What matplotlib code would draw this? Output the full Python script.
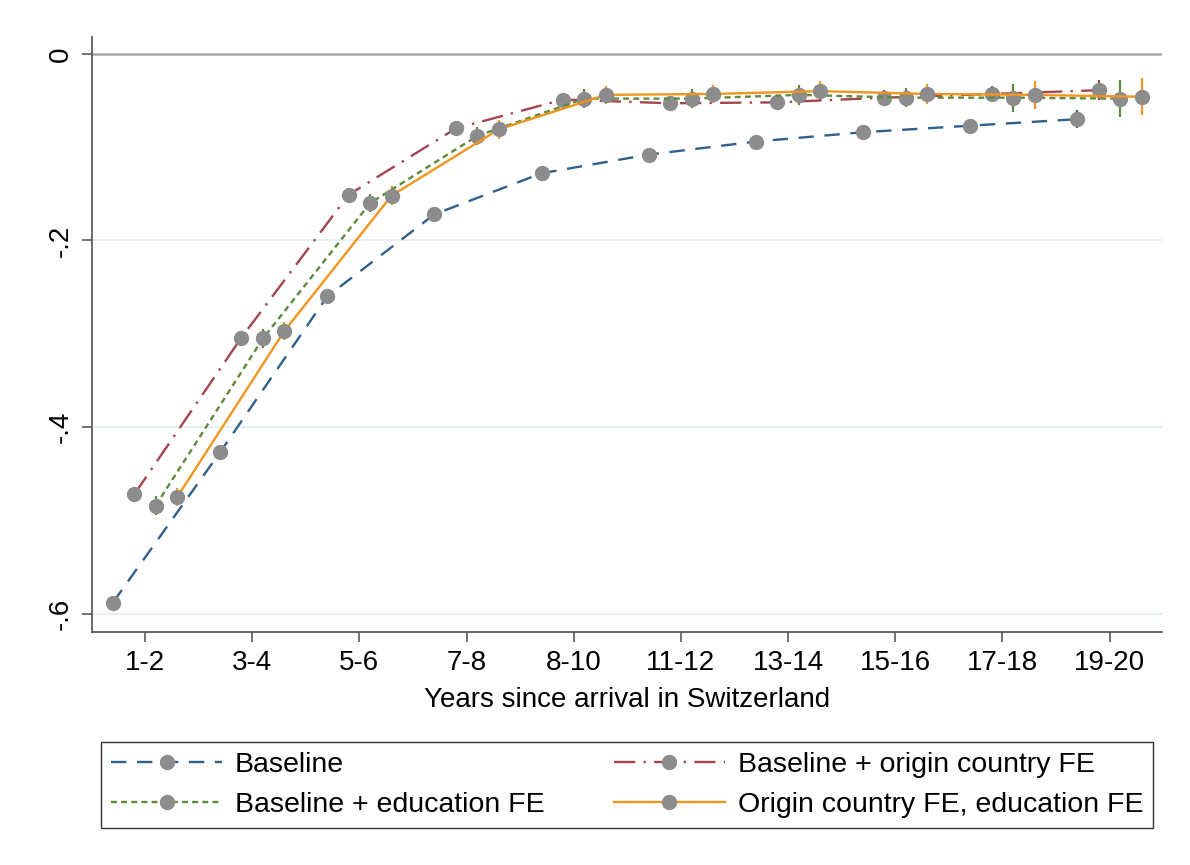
import numpy as np
import matplotlib.pyplot as plt

plt.rcParams['font.family'] = ['Liberation Sans', 'DejaVu Sans']

# categories (years since arrival)
periods = ['1-2', '3-4', '5-6', '7-8', '8-10', '11-12', '13-14', '15-16', '17-18', '19-20']

# point estimates
baseline = [-0.588, -0.427, -0.260, -0.172, -0.128, -0.108, -0.094, -0.084, -0.077, -0.070]
origin_fe = [-0.472, -0.304, -0.151, -0.080, -0.049, -0.053, -0.052, -0.047, -0.043, -0.039]
educ_fe = [-0.484, -0.305, -0.160, -0.088, -0.048, -0.048, -0.044, -0.047, -0.047, -0.048]
both_fe = [-0.475, -0.297, -0.152, -0.081, -0.044, -0.043, -0.040, -0.043, -0.044, -0.046]

# half-width of confidence intervals
baseline_ci = [0.003, 0.003, 0.003, 0.003, 0.003, 0.003, 0.004, 0.005, 0.006, 0.010]
origin_ci = [0.004, 0.005, 0.005, 0.005, 0.006, 0.006, 0.007, 0.008, 0.009, 0.011]
educ_ci = [0.010, 0.010, 0.010, 0.010, 0.010, 0.010, 0.011, 0.010, 0.015, 0.020]
both_ci = [0.010, 0.010, 0.010, 0.010, 0.010, 0.010, 0.011, 0.011, 0.015, 0.020]

labels = ['Baseline', 'Baseline + origin country FE',
          'Baseline + education FE', 'Origin country FE, education FE']

fig = plt.figure(figsize=(11.9, 8.65), dpi=100)
ax = fig.add_axes([0.0773, 0.2694, 0.8992, 0.6878])

x = np.arange(1, len(periods) + 1)
series = [
    (baseline, baseline_ci, -0.3, '#2f5f8a', (0, (6.5, 4.5))),
    (origin_fe, origin_ci, -0.1, '#a3454f', (0, (9, 3.5, 1, 3.5))),
    (educ_fe, educ_ci, 0.1, '#5f8a3a', (0, (2.5, 1.8))),
    (both_fe, both_ci, 0.3, '#f0961e', '-'),
]

# grid and zero line
for yv in [-0.2, -0.4, -0.6]:
    ax.axhline(yv, color='#e4eef0', lw=1.3, zorder=0)
ax.axhline(0, color='#a8a8a8', lw=1.8, zorder=0)

handles = []
for vals, ci, off, col, ls in series:
    xs = x + off
    ax.errorbar(xs, vals, yerr=ci, fmt='none', ecolor=col, elinewidth=1.6, capsize=0, zorder=2)
    h, = ax.plot(xs, vals, color=col, lw=1.7, linestyle=ls, marker='o', markersize=10,
                 markerfacecolor='#8c8c8c', markeredgecolor='#8c8c8c', zorder=3)
    handles.append(h)

ax.set_xlim(0.505, 10.49)
ax.set_ylim(-0.6195, 0.018)
ax.set_xticks(x)
ax.set_xticklabels(periods, fontsize=20)
ax.set_yticks([0, -0.2, -0.4, -0.6])
ax.set_yticklabels(['0', '-.2', '-.4', '-.6'], fontsize=20, rotation=90, va='center')
ax.set_xlabel('Years since arrival in Switzerland', fontsize=20, labelpad=8)

for s in ['top', 'right']:
    ax.spines[s].set_visible(False)
for s in ['left', 'bottom']:
    ax.spines[s].set_color('#5a5a5a')
    ax.spines[s].set_linewidth(1.3)
ax.tick_params(axis='both', length=7, width=1.2, color='#5a5a5a', pad=6)

# legend filled column-wise, so reorder to get row-wise layout
order = [0, 2, 1, 3]
leg = fig.legend([handles[i] for i in order], [labels[i] for i in order],
                 loc='lower left', bbox_to_anchor=(0.0849, 0.0428, 0.884, 0.11),
                 mode='expand', ncol=2, fontsize=20.5, frameon=True, fancybox=False,
                 edgecolor='black', handlelength=3.9, numpoints=1, borderpad=0.35,
                 labelspacing=0.48, handletextpad=0.45, borderaxespad=0)
leg.get_frame().set_linewidth(1.0)

fig.savefig('out.png', dpi=100)
